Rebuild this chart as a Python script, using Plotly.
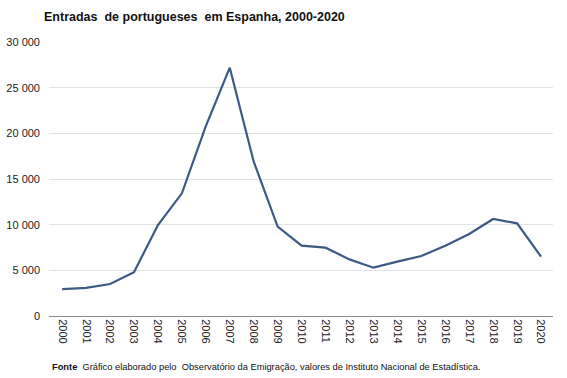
import plotly.graph_objects as go

anos = list(range(2000, 2021))
entradas = [2950, 3070, 3500, 4800, 9950, 13430, 20800, 27190, 16900, 9780,
            7700, 7480, 6200, 5290, 5950, 6570, 7700, 8980, 10620, 10150, 6500]
y_ticks = [0, 5000, 10000, 15000, 20000, 25000, 30000]

fig = go.Figure()
fig.add_trace(go.Scatter(x=anos, y=entradas, mode="lines",
                         line=dict(color="#3b5a84", width=2.2)))

fig.update_layout(
    width=567, height=378,
    margin=dict(l=49, r=14, t=42, b=62, autoexpand=False),
    paper_bgcolor="white", plot_bgcolor="white",
    separators=", ",
    showlegend=False,
    font=dict(family="Liberation Sans, Arial, sans-serif", size=11, color="#222"),
    title=dict(text="<b>Entradas  de portugueses  em Espanha, 2000-2020</b>",
               x=44/567, xanchor="left", y=1-17/378, yanchor="middle",
               font=dict(size=12.5, color="#111")),
)
fig.update_xaxes(range=[1999.45, 2020.5], tickmode="array", tickvals=anos,
                 ticktext=[str(a) for a in anos], tickangle=90,
                 showgrid=False, showline=True, linecolor="#888", linewidth=1,
                 ticks="", tickfont=dict(size=11, color="#222"), zeroline=False,
                 automargin=False)
fig.update_yaxes(range=[0, 30000], tickvals=y_ticks, tickformat=",d",
                 showgrid=True, gridcolor="#dde3ea", gridwidth=1,
                 zeroline=False, showline=False, ticks="",
                 tickfont=dict(size=11, color="#222"), ticklabelstandoff=8,
                 automargin=False)

fig.add_annotation(text="<b>Fonte</b>  Gráfico elaborado pelo  Observatório da Emigração, valores de Instituto Nacional de Estadística.",
                   xref="paper", yref="paper", x=(50-49)/504, y=-(367-316)/274,
                   xanchor="left", yanchor="middle", showarrow=False,
                   font=dict(size=9.3, color="#111"))

fig.write_html("out.html", config={"displayModeBar": False},
               post_script="document.body.style.margin='0';document.body.style.overflow='hidden';")
